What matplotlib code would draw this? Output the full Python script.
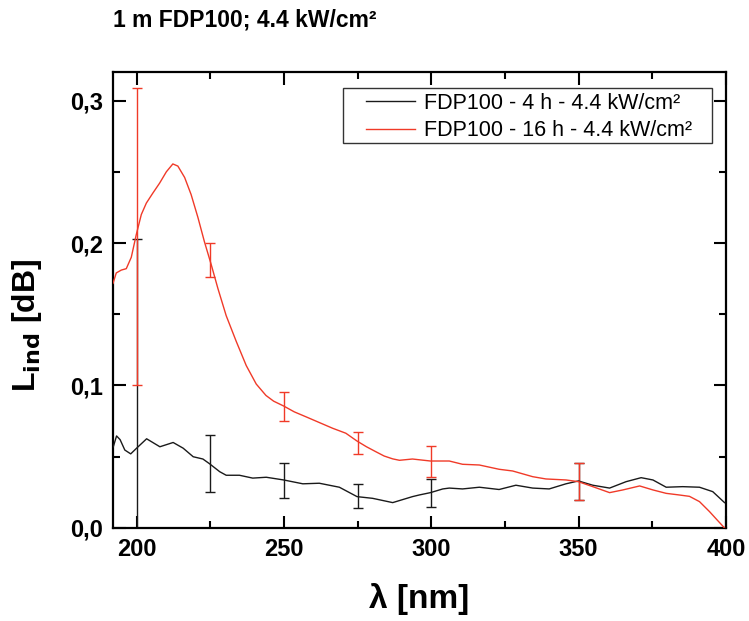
import matplotlib
matplotlib.use("Agg")
import matplotlib.pyplot as plt
from matplotlib.patches import Rectangle
from matplotlib.ticker import MultipleLocator, FuncFormatter

# ---- data ----
wl_16h = [192.0, 193.1, 194.8, 196.5, 198.2, 199.9, 201.6, 203.3, 205.5, 207.8, 210.1, 212.3,
          214.0, 216.3, 218.5, 220.8, 223.0, 225.3, 227.6, 230.4, 233.8, 237.2, 240.6, 243.9,
          246.5, 249.9, 253.5, 257.5, 262.0, 266.5, 271.0, 274.8, 278.0, 281.2, 284.0, 286.9,
          289.2, 293.6, 299.7, 303.8, 306.1, 310.6, 316.3, 323.0, 327.6, 334.4, 338.9, 345.7,
          349.9, 354.8, 360.5, 365.0, 370.7, 375.2, 379.7, 384.0, 387.6, 391.0, 394.4, 397.0,
          399.5]
L_16h = [0.1717, 0.179, 0.181, 0.182, 0.190, 0.206, 0.220, 0.228, 0.235, 0.242, 0.250, 0.2555,
         0.254, 0.246, 0.234, 0.218, 0.201, 0.185, 0.168, 0.149, 0.131, 0.114, 0.101, 0.093,
         0.089, 0.0856, 0.0815, 0.078, 0.074, 0.070, 0.0665, 0.061, 0.057, 0.0535, 0.0505, 0.0485,
         0.0475, 0.0484, 0.047, 0.047, 0.047, 0.0447, 0.0442, 0.0412, 0.040, 0.036, 0.0344, 0.0337,
         0.0325, 0.029, 0.0248, 0.0267, 0.0295, 0.0267, 0.0243, 0.0232, 0.0222, 0.0185, 0.0115,
         0.0056, 0.0]

wl_4h = [192.1, 193.2, 194.4, 196.0, 198.0, 200.0, 203.4, 207.9, 212.4, 215.8, 219.2, 222.5,
         224.8, 228.2, 230.4, 234.9, 239.4, 244.0, 249.9, 256.4, 262.0, 268.8, 274.8, 280.1,
         286.9, 293.6, 296.0, 299.7, 303.9, 306.1, 310.6, 316.3, 323.0, 328.7, 334.4, 340.0,
         345.7, 349.9, 354.8, 360.5, 366.1, 371.2, 375.2, 379.7, 385.3, 391.0, 395.5, 399.5]
L_4h = [0.057, 0.0646, 0.062, 0.0547, 0.052, 0.056, 0.0626, 0.057, 0.060, 0.056, 0.050, 0.0484,
        0.045, 0.0395, 0.037, 0.037, 0.035, 0.0356, 0.0337, 0.031, 0.0314, 0.0286, 0.022, 0.0208,
        0.0178, 0.022, 0.0232, 0.0248, 0.0274, 0.028, 0.0274, 0.0286, 0.027, 0.030, 0.028, 0.0274,
        0.031, 0.033, 0.030, 0.028, 0.0325, 0.0353, 0.0337, 0.0286, 0.029, 0.0286, 0.0255, 0.0178]

err_wl = [200, 225, 250, 275, 300, 350]
err_16h_center = [0.2045, 0.188, 0.0854, 0.0598, 0.0469, 0.0327]
err_16h_size = [0.1045, 0.012, 0.0103, 0.0078, 0.0109, 0.0131]
err_4h_center = [0.056, 0.045, 0.0332, 0.0222, 0.0245, 0.0327]
err_4h_size = [0.147, 0.020, 0.0122, 0.0085, 0.010, 0.0131]

label_4h = "FDP100 - 4 h - 4.4 kW/cm²"
label_16h = "FDP100 - 16 h - 4.4 kW/cm²"
title = "1 m FDP100; 4.4 kW/cm²"

RED = "#f03a28"
BLACK = "#1a1a1a"
SANS = ["Liberation Sans", "DejaVu Sans"]

fig = plt.figure(figsize=(7.49, 6.21), dpi=100)
ax = fig.add_axes([0.1509, 0.1498, 0.9693 - 0.1509, 0.884 - 0.1498])

ax.plot(wl_4h, L_4h, color=BLACK, lw=1.0, label=label_4h, zorder=3)
ax.plot(wl_16h, L_16h, color=RED, lw=1.0, label=label_16h, zorder=3)
ax.errorbar(err_wl, err_4h_center, yerr=err_4h_size, fmt="none", ecolor=BLACK,
            elinewidth=1.0, capsize=3.5, capthick=1.0, zorder=2)
ax.errorbar(err_wl, err_16h_center, yerr=err_16h_size, fmt="none", ecolor=RED,
            elinewidth=1.0, capsize=3.5, capthick=1.0, zorder=2)

ax.set_xlim(192, 400)
ax.set_ylim(0, 0.32)
ax.xaxis.set_major_locator(MultipleLocator(50))
ax.xaxis.set_minor_locator(MultipleLocator(25))
ax.yaxis.set_major_locator(MultipleLocator(0.1))
ax.yaxis.set_minor_locator(MultipleLocator(0.05))
ax.yaxis.set_major_formatter(FuncFormatter(lambda v, p: f"{v:.1f}".replace(".", ",")))

for s in ax.spines.values():
    s.set_linewidth(1.6)
ax.tick_params(which="both", direction="in", top=True, right=True, width=1.5)
ax.tick_params(which="major", length=9, pad=7)
ax.tick_params(which="minor", length=5)

for lab in ax.get_xticklabels() + ax.get_yticklabels():
    lab.set_fontfamily(SANS)
    lab.set_fontweight("bold")
    lab.set_fontsize(17)

ax.set_xlabel("λ [nm]", fontsize=24, fontweight="bold", family=SANS, labelpad=16)
ax.set_ylabel(r"L$_{\mathbf{ind}}$ [dB]", fontsize=23, fontweight="bold", family=SANS)
ax.yaxis.set_label_coords(-0.113, 0.445)

fig.text(0.151, 0.968, title, fontsize=16.5, fontweight="bold",
         family=SANS, ha="left", va="center")

# legend frame drawn separately (wider padding than matplotlib's uniform borderpad)
ax.add_patch(Rectangle((0.375, 0.844), 0.977 - 0.375, 0.965 - 0.844, transform=ax.transAxes,
                       facecolor="white", edgecolor="#333333", lw=1.0, zorder=4))
leg = ax.legend(loc="upper left", bbox_to_anchor=(0.412, 0.955), borderaxespad=0.0,
                frameon=False, handlelength=2.3, borderpad=0.0, labelspacing=0.32,
                handletextpad=0.4, prop={"family": SANS, "size": 15.5})
leg.set_zorder(5)

fig.savefig("out.png", dpi=100)
